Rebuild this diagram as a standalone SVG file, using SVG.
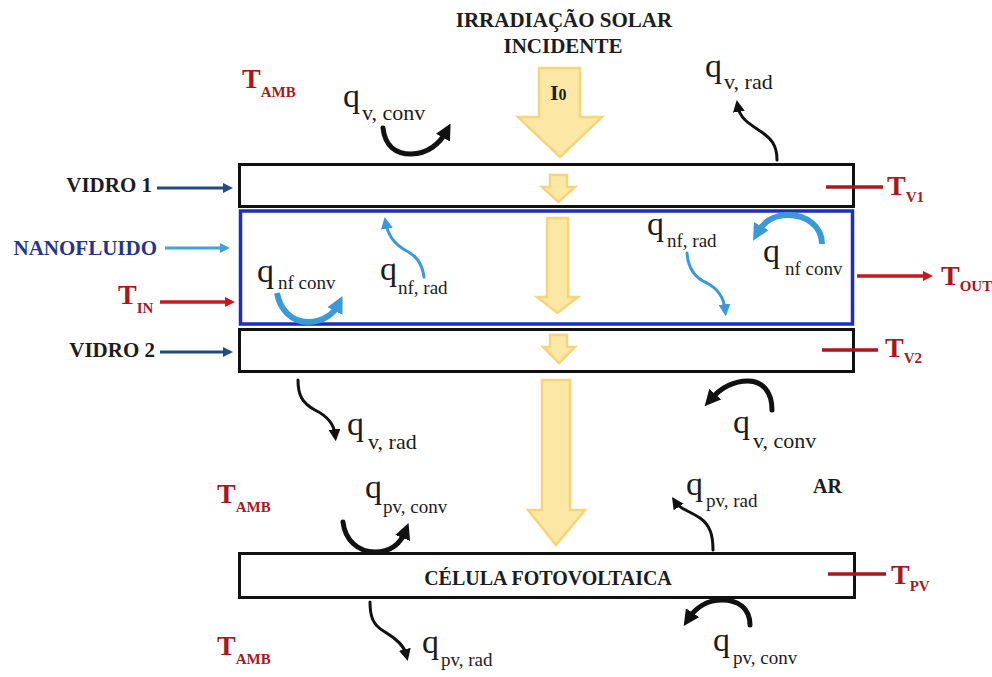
<svg xmlns="http://www.w3.org/2000/svg" width="992" height="677" viewBox="0 0 992 677">
<defs>
<style>
.lbl{font-family:"Liberation Serif",serif;font-weight:bold;fill:#1c1c1c}
.q{font-family:"Liberation Serif",serif;font-size:34px;fill:#1c1c1c}
.s22{font-size:22px}
.s19{font-size:19px}
.t{font-family:"Liberation Serif",serif;font-weight:bold;font-size:28px;fill:#a8171c}
.ts{font-size:15px}
.box{fill:#fff;stroke:#111;stroke-width:3}
.nf{fill:#fff;stroke:#1d2fc0;stroke-width:3.5}
.sun{fill:#fce8a4;stroke:#f5d47a;stroke-width:2.5;stroke-linejoin:miter}
.ck{fill:none;stroke:#111;stroke-width:5;stroke-linecap:round}
.wk{fill:none;stroke:#111;stroke-width:3;stroke-linecap:round}
.cb{fill:none;stroke:#3a9ad9;stroke-width:6;stroke-linecap:butt}
.wb{fill:none;stroke:#3a9ad9;stroke-width:3;stroke-linecap:round}
.tick{stroke:#a8171c;stroke-width:3.5}
</style>
<marker id="hk" viewBox="0 0 10 10" refX="4" refY="5" markerWidth="3.2" markerHeight="3.2" orient="auto"><path d="M0,0 L10,5 L0,10 z" fill="#111"/></marker>
<marker id="hkw" viewBox="0 0 10 10" refX="4" refY="5" markerWidth="4" markerHeight="4" orient="auto"><path d="M0,0 L10,5 L0,10 z" fill="#111"/></marker>
<marker id="hb" viewBox="0 0 10 10" refX="4" refY="5" markerWidth="2.8" markerHeight="2.8" orient="auto"><path d="M0,0 L10,5 L0,10 z" fill="#3a9ad9"/></marker>
<marker id="hbw" viewBox="0 0 10 10" refX="4" refY="5" markerWidth="4" markerHeight="4" orient="auto"><path d="M0,0 L10,5 L0,10 z" fill="#3a9ad9"/></marker>
<marker id="hnavy" viewBox="0 0 10 10" refX="0" refY="5" markerUnits="userSpaceOnUse" markerWidth="11" markerHeight="10" orient="auto"><path d="M0,0 L10,5 L0,10 z" fill="#214d78"/></marker>
<marker id="hlb" viewBox="0 0 10 10" refX="0" refY="5" markerUnits="userSpaceOnUse" markerWidth="11" markerHeight="10" orient="auto"><path d="M0,0 L10,5 L0,10 z" fill="#41a3dd"/></marker>
<marker id="hred" viewBox="0 0 10 10" refX="0" refY="5" markerUnits="userSpaceOnUse" markerWidth="11" markerHeight="10" orient="auto"><path d="M0,0 L10,5 L0,10 z" fill="#c41a1f"/></marker>
</defs>
<rect width="992" height="677" fill="#fff"/>

<g id="titulo">
<text class="lbl" x="564" y="27" font-size="21" text-anchor="middle">IRRADIAÇÃO SOLAR</text>
<text class="lbl" x="563" y="53" font-size="21" text-anchor="middle">INCIDENTE</text>
</g>

<g id="vidro1">
<rect class="box" x="239.5" y="164.5" width="614" height="42"/>
</g>
<g id="nanofluido">
<rect class="nf" x="240.5" y="211" width="612" height="113"/>
</g>
<g id="vidro2">
<rect class="box" x="239.5" y="329.5" width="614" height="42"/>
</g>
<g id="celula">
<rect class="box" x="239.5" y="553.5" width="615" height="44"/>
<text class="lbl" x="548" y="585" font-size="20" text-anchor="middle">CÉLULA FOTOVOLTAICA</text>
</g>

<g id="sol">
<path class="sun" d="M539,68 H580 V117 H602 L560,157 L518,117 H539 Z"/>
<text class="lbl" x="550" y="100" font-size="22">I<tspan font-size="16">0</tspan></text>
<path class="sun" d="M550,175 H567 V187 H575 L558.5,202 L542,187 H550 Z"/>
<path class="sun" d="M547,218 H568 V297 H578 L557.5,313 L537,297 H547 Z"/>
<path class="sun" d="M550,335 H567 V347 H575 L559,363 L543,347 H550 Z"/>
<path class="sun" d="M542,380 H570 V510 H585 L556,545 L528,510 H542 Z"/>
</g>

<g id="rotulos">
<text class="lbl" x="152" y="192" font-size="21" text-anchor="end">VIDRO 1</text>
<text class="lbl" x="157" y="255" font-size="21" text-anchor="end" style="fill:#26348f">NANOFLUIDO</text>
<text class="lbl" x="155" y="357" font-size="21" text-anchor="end">VIDRO 2</text>
<text class="lbl" x="813" y="493" font-size="20">AR</text>
</g>

<g id="temperaturas">
<text class="t" x="242" y="88">T<tspan class="ts" dy="9">AMB</tspan></text>
<text class="t" x="217" y="503">T<tspan class="ts" dy="9">AMB</tspan></text>
<text class="t" x="217" y="655">T<tspan class="ts" dy="9">AMB</tspan></text>
<text class="t" x="118" y="304">T<tspan class="ts" dy="9">IN</tspan></text>
<text class="t" x="887" y="195">T<tspan class="ts" dy="7">V1</tspan></text>
<text class="t" x="941" y="285">T<tspan class="ts" dy="6">OUT</tspan></text>
<text class="t" x="885" y="357">T<tspan class="ts" dy="6">V2</tspan></text>
<text class="t" x="891" y="584">T<tspan class="ts" dy="7">PV</tspan></text>
<line class="tick" x1="826" y1="187" x2="883" y2="187"/>
<line class="tick" x1="822" y1="350" x2="878" y2="350"/>
<line class="tick" x1="828" y1="574" x2="886" y2="574"/>
</g>

<g id="fluxos">
<text class="q" x="343" y="107">q<tspan class="s22" dx="2" dy="13">v, conv</tspan></text>
<text class="q" x="705" y="77">q<tspan class="s22" dx="2" dy="12">v, rad</tspan></text>
<text class="q" x="257" y="282">q<tspan class="s19" dx="4" dy="7">nf conv</tspan></text>
<text class="q" x="380" y="280">q<tspan class="s19" dx="1" dy="14">nf, rad</tspan></text>
<text class="q" x="647" y="235">q<tspan class="s19" dx="3" dy="12">nf, rad</tspan></text>
<text class="q" x="763" y="262">q<tspan class="s19" dx="5" dy="13">nf conv</tspan></text>
<text class="q" x="347" y="435">q<tspan class="s22" dx="4" dy="14">v, rad</tspan></text>
<text class="q" x="733" y="433">q<tspan class="s22" dx="3" dy="15">v, conv</tspan></text>
<text class="q" x="365" y="498">q<tspan class="s19" dx="1" dy="15">pv, conv</tspan></text>
<text class="q" x="686" y="495">q<tspan class="s19" dx="3" dy="12">pv, rad</tspan></text>
<text class="q" x="422" y="653">q<tspan class="s19" dx="2" dy="13">pv, rad</tspan></text>
<text class="q" x="713" y="651">q<tspan class="s19" dx="3" dy="13">pv, conv</tspan></text>
</g>

<g id="conectores">
<line x1="157" y1="188" x2="223" y2="188" stroke="#214d78" stroke-width="3" marker-end="url(#hnavy)"/>
<line x1="165" y1="248" x2="220" y2="248" stroke="#41a3dd" stroke-width="3" marker-end="url(#hlb)"/>
<line x1="160" y1="302" x2="225" y2="302" stroke="#c41a1f" stroke-width="3.5" marker-end="url(#hred)"/>
<line x1="160" y1="352" x2="223" y2="352" stroke="#214d78" stroke-width="3" marker-end="url(#hnavy)"/>
<line x1="857" y1="276" x2="923" y2="276" stroke="#c41a1f" stroke-width="3.5" marker-end="url(#hred)"/>

<path class="ck" d="M383,128 C385,146 396,154 411,154 C428,154 440,143 446,132" marker-end="url(#hk)"/>
<path class="wk" d="M777,160 C777,145 771,138 760,131 C748,123 740,118 738,107" marker-end="url(#hkw)"/>
<path class="wk" d="M298,380 C298,395 302,403 315,410 C329,417 334,425 335,434" marker-end="url(#hkw)"/>
<path class="ck" d="M772,410 C772,391 762,381 748,381 C731,381 719,390 711,399" marker-end="url(#hk)"/>
<path class="ck" d="M343,522 C345,540 358,552 375,552 C392,552 401,542 405,532" marker-end="url(#hk)"/>
<path class="wk" d="M713,550 C713,535 710,525 700,518 C688,510 680,509 676,503" marker-end="url(#hkw)"/>
<path class="wk" d="M370,602 C370,615 372,625 385,632 C398,640 404,646 406,654" marker-end="url(#hkw)"/>
<path class="ck" d="M750,625 C750,608 738,600 722,600 C706,600 695,609 689,618" marker-end="url(#hk)"/>

<path class="cb" d="M277,293 C280,310 292,322 308,322 C324,322 334,313 338,305" marker-end="url(#hb)"/>
<path class="wb" d="M424,277 C422,262 415,255 405,250 C393,243 388,235 386,224" marker-end="url(#hbw)"/>
<path class="wb" d="M687,253 C688,268 695,278 707,283 C720,290 724,300 725,309" marker-end="url(#hbw)"/>
<path class="cb" d="M822,244 C822,226 806,215 788,215 C773,215 763,223 758,232" marker-end="url(#hb)"/>
</g>
</svg>
